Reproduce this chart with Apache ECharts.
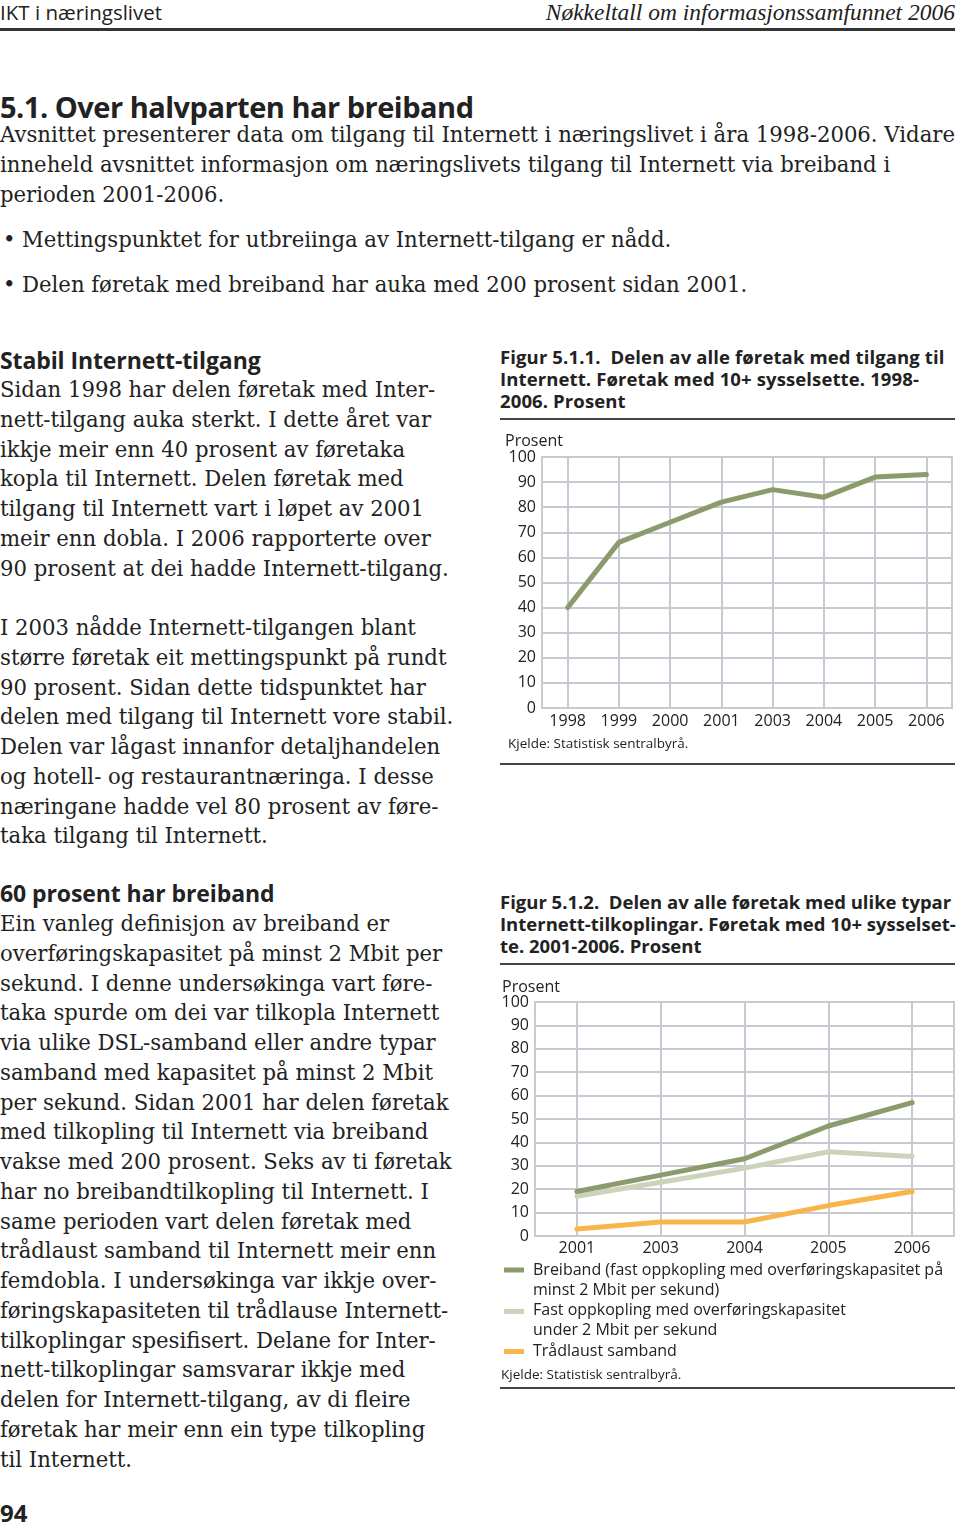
<!DOCTYPE html>
<html>
<head>
<meta charset="utf-8">
<script src="https://cdn.jsdelivr.net/npm/echarts@6/dist/echarts.min.js"></script>
<style>
  html, body { margin: 0; padding: 0; background: #fff; }
  body { width: 960px; height: 1526px; position: relative; overflow: hidden; color: #222; }
  .abs { position: absolute; white-space: nowrap; }
  .serif { font-family: "DejaVu Serif", "Liberation Serif", serif; }
  .sans { font-family: "Open Sans", "Noto Sans", sans-serif; }
  .rule { position: absolute; background: #333; }
  .body { font-size: 21.5px; line-height: 29.75px; transform-origin: 0 0; }
  .h2 { font-weight: bold; font-size: 23px; line-height: 30px; letter-spacing: -0.1px; }
  .figt { font-weight: bold; font-size: 18.5px; line-height: 22px; }
</style>
</head>
<body>
<div class="abs sans" style="left:0;top:0;font-size:20.5px;line-height:24px;">IKT i næringslivet</div>
<div class="abs serif" style="right:5px;top:0;font-size:23.5px;line-height:24px;font-style:italic;font-family:'Liberation Serif',serif;">Nøkkeltall om informasjonssamfunnet 2006</div>
<div class="rule" style="left:0;top:28px;width:955px;height:3px;"></div>

<div class="abs sans" style="left:0;top:91px;font-size:29px;line-height:32px;font-weight:bold;letter-spacing:-0.5px;">5.1. Over halvparten har breiband</div>
<div class="abs serif body" style="left:0;top:120px;line-height:30px;"><span id="fitline">Avsnittet presenterer data om tilgang til Internett i næringslivet i åra 1998-2006. Vidare</span><br>inneheld avsnittet informasjon om næringslivets tilgang til Internett via breiband i<br>perioden 2001-2006.</div>
<div class="abs serif body" style="left:3px;top:225px;line-height:30px;">•</div>
<div class="abs serif body" style="left:22px;top:225px;line-height:30px;">Mettingspunktet for utbreiinga av Internett-tilgang er nådd.</div>
<div class="abs serif body" style="left:3px;top:270px;line-height:30px;">•</div>
<div class="abs serif body" style="left:22px;top:270px;line-height:30px;">Delen føretak med breiband har auka med 200 prosent sidan 2001.</div>

<div class="abs sans h2" style="left:0;top:345px;">Stabil Internett-tilgang</div>
<div class="abs serif body" style="left:0;top:375px;">Sidan 1998 har delen føretak med Inter-<br>nett-tilgang auka sterkt. I dette året var<br>ikkje meir enn 40 prosent av føretaka<br>kopla til Internett. Delen føretak med<br>tilgang til Internett vart i løpet av 2001<br>meir enn dobla. I 2006 rapporterte over<br>90 prosent at dei hadde Internett-tilgang.</div>
<div class="abs serif body" style="left:0;top:613px;">I 2003 nådde Internett-tilgangen blant<br>større føretak eit mettingspunkt på rundt<br>90 prosent. Sidan dette tidspunktet har<br>delen med tilgang til Internett vore stabil.<br>Delen var lågast innanfor detaljhandelen<br>og hotell- og restaurantnæringa. I desse<br>næringane hadde vel 80 prosent av føre-<br>taka tilgang til Internett.</div>

<div class="abs sans h2" style="left:0;top:878px;">60 prosent har breiband</div>
<div class="abs serif body" style="left:0;top:909px;">Ein vanleg definisjon av breiband er<br>overføringskapasitet på minst 2 Mbit per<br>sekund. I denne undersøkinga vart føre-<br>taka spurde om dei var tilkopla Internett<br>via ulike DSL-samband eller andre typar<br>samband med kapasitet på minst 2 Mbit<br>per sekund. Sidan 2001 har delen føretak<br>med tilkopling til Internett via breiband<br>vakse med 200 prosent. Seks av ti føretak<br>har no breibandtilkopling til Internett. I<br>same perioden vart delen føretak med<br>trådlaust samband til Internett meir enn<br>femdobla. I undersøkinga var ikkje over-<br>føringskapasiteten til trådlause Internett-<br>tilkoplingar spesifisert. Delane for Inter-<br>nett-tilkoplingar samsvarar ikkje med<br>delen for Internett-tilgang, av di fleire<br>føretak har meir enn ein type tilkopling<br>til Internett.</div>
<div class="abs sans" style="left:0;top:1498px;font-size:24px;line-height:30px;font-weight:bold;">94</div>

<div class="abs sans figt" style="left:500px;top:346px;letter-spacing:0.12px;">Figur 5.1.1.&nbsp; Delen av alle føretak med tilgang til<br>Internett. Føretak med 10+ sysselsette. 1998-<br>2006. Prosent</div>
<div class="rule" style="left:500px;top:418px;width:455px;height:1.5px;background:#444;"></div>
<div id="c1" style="position:absolute;left:495px;top:425px;width:465px;height:335px;"></div>
<div class="rule" style="left:500px;top:763px;width:455px;height:1.5px;background:#444;"></div>

<div class="abs sans figt" style="left:500px;top:891px;">Figur 5.1.2.&nbsp; Delen av alle føretak med ulike typar<br>Internett-tilkoplingar. Føretak med 10+ sysselset-<br>te. 2001-2006. Prosent</div>
<div class="rule" style="left:500px;top:963px;width:455px;height:1.5px;background:#444;"></div>
<div id="c2" style="position:absolute;left:495px;top:975px;width:465px;height:410px;"></div>
<div class="rule" style="left:500px;top:1387px;width:455px;height:1.5px;background:#444;"></div>

<script>
// Condense body serif horizontally so the first intro line spans the page width as in the reference
(function () {
  const span = document.getElementById('fitline');
  const w = span.getBoundingClientRect().width;
  if (w > 0) {
    const s = 955 / w;
    document.querySelectorAll('.body').forEach(el => { el.style.transform = 'scaleX(' + s.toFixed(4) + ')'; });
  }
})();

// ---------- Data ----------
const years1 = ['1998', '1999', '2000', '2001', '2003', '2004', '2005', '2006'];
const internettTilgang = [40, 66, 74, 82, 87, 84, 92, 93];

const years2 = ['2001', '2003', '2004', '2005', '2006'];
const breiband = [19, 26, 33, 47, 57];
const fastUnder2 = [17, 23, 29, 36, 34];
const traadlaust = [3, 6, 6, 13, 19];

const seriesNames2 = [
  'Breiband (fast oppkopling med overføringskapasitet på\nminst 2 Mbit per sekund)',
  'Fast oppkopling med overføringskapasitet\nunder 2 Mbit per sekund',
  'Trådlaust samband'
];
const yTicks = { min: 0, max: 100, interval: 10 };
const unitLabel = 'Prosent';
const sourceLabel = 'Kjelde: Statistisk sentralbyrå.';

// ---------- Styles ----------
const FONT = '"Open Sans", "Noto Sans", sans-serif';
const GRID_C = '#c9cad1';
const C_GREEN = '#8b9b6b';
const C_PALE = '#cdd2bb';
const C_ORANGE = '#f8b54b';

function axes(cats, ylabMargin, xlabMargin) {
  return {
    xAxis: {
      type: 'category', data: cats, boundaryGap: true,
      axisLine: { show: true, lineStyle: { color: GRID_C, width: 2 } },
      axisTick: { show: false },
      axisLabel: { color: '#222', fontSize: 16, fontFamily: FONT, margin: xlabMargin },
      splitLine: { show: true, alignWithLabel: true, lineStyle: { color: GRID_C, width: 2 } }
    },
    yAxis: {
      type: 'value', min: yTicks.min, max: yTicks.max, interval: yTicks.interval,
      axisLine: { show: true, lineStyle: { color: GRID_C, width: 2 } },
      axisTick: { show: false },
      axisLabel: { color: '#222', fontSize: 16, fontFamily: FONT, margin: ylabMargin },
      splitLine: { show: true, lineStyle: { color: GRID_C, width: 2 } }
    }
  };
}

// Chart 1
const c1 = echarts.init(document.getElementById('c1'), null, { renderer: 'canvas' });
const a1 = axes(years1, 6, 5);
c1.setOption({
  animation: false,
  grid: { left: 47, top: 32, width: 410, height: 251, show: true, borderColor: GRID_C, borderWidth: 2, containLabel: false },
  xAxis: a1.xAxis, yAxis: a1.yAxis,
  graphic: [
    { type: 'text', left: 10, top: 8, style: { text: unitLabel, fontSize: 16, fontFamily: FONT, fill: '#222' } },
    { type: 'text', left: 13, top: 312, style: { text: sourceLabel, fontSize: 13.5, fontFamily: FONT, fill: '#222' } }
  ],
  series: [{
    type: 'line', data: internettTilgang, symbol: 'none',
    lineStyle: { color: C_GREEN, width: 5, cap: 'round', join: 'round' }
  }]
});

// Chart 2
const c2 = echarts.init(document.getElementById('c2'), null, { renderer: 'canvas' });
const a2 = axes(years2, 6, 4);
const colors2 = [C_GREEN, C_PALE, C_ORANGE];
const data2 = [breiband, fastUnder2, traadlaust];
const legendIconY = [295, 336.5, 376.5];
const legendTextTop = [285, 325, 366];
const legendGraphics = [];
seriesNames2.forEach((n, i) => {
  legendGraphics.push({ type: 'rect', left: 9, top: legendIconY[i] - 2.5, shape: { width: 20, height: 5 }, style: { fill: colors2[i] } });
  legendGraphics.push({ type: 'text', left: 38, top: legendTextTop[i], style: { text: n, fontSize: 16, lineHeight: 20, fontFamily: FONT, fill: '#222' } });
});
c2.setOption({
  animation: false,
  grid: { left: 40, top: 27, width: 419, height: 234, show: true, borderColor: GRID_C, borderWidth: 2, containLabel: false },
  xAxis: a2.xAxis, yAxis: a2.yAxis,
  graphic: [
    { type: 'text', left: 7, top: 4, style: { text: unitLabel, fontSize: 16, fontFamily: FONT, fill: '#222' } },
    { type: 'text', left: 6, top: 393, style: { text: sourceLabel, fontSize: 13.5, fontFamily: FONT, fill: '#222' } }
  ].concat(legendGraphics),
  series: data2.map((d, i) => ({
    type: 'line', name: seriesNames2[i], data: d, symbol: 'none', z: 3 - i,
    lineStyle: { color: colors2[i], width: 5, cap: 'round', join: 'round' }
  }))
});
</script>
</body>
</html>
